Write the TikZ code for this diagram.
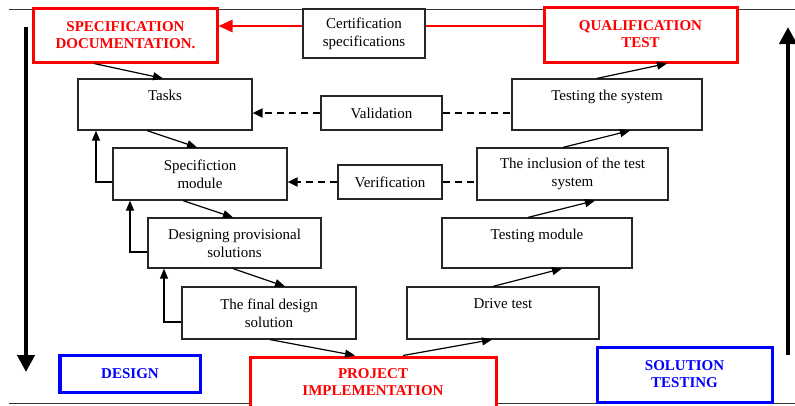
\documentclass[tikz,border=0pt]{standalone}
\usepackage{fontspec}
\setmainfont{Liberation Serif}
\usetikzlibrary{arrows.meta,backgrounds,calc}
\begin{document}
\begin{tikzpicture}[x=1bp,y=-1bp,
  box/.style={draw=black!85, line width=1.2bp, fill=white, inner sep=0pt, align=center,
    font=\fontsize{15bp}{18bp}\selectfont},
  redbox/.style={draw=red, line width=3bp, fill=white, inner sep=0pt, align=center, text=red,
    font=\bfseries\fontsize{15bp}{17bp}\selectfont},
  bluebox/.style={draw=blue, line width=3bp, fill=white, inner sep=0pt, align=center, text=blue,
    font=\bfseries\fontsize{15bp}{17bp}\selectfont},
  flow/.style={-{Triangle[length=10bp,width=8bp]}, line width=1.2bp},
  feedback/.style={-{Triangle[length=10bp,width=8bp]}, line width=1.2bp},
  dashline/.style={line width=1.9bp, dash pattern=on 7bp off 5bp},
  dasharrow/.style={dashline, -{Triangle[length=10bp,width=9bp]}},
  bigarrow/.style={line width=4.5bp, -{Triangle[length=17bp,width=17bp]}},
  frameline/.style={draw=black!80, line width=1bp}
]
\useasboundingbox (0,0) rectangle (795,405);

% boxes
\node[redbox, minimum width=183bp, minimum height=54bp] (specdoc) at (125.5,35) {SPECIFICATION\\DOCUMENTATION.};
\node[box, minimum width=122bp, minimum height=49bp] (cert) at (364,33.5) {Certification\\specifications};
\node[redbox, minimum width=193bp, minimum height=55bp] (qual) at (640.5,34.5) {QUALIFICATION\\TEST};

\node[box, minimum width=174bp, minimum height=51bp] (tasks) at (165,104.5) {Tasks\\~};
\node[box, minimum width=121bp, minimum height=34bp] (valid) at (381.5,113) {Validation};
\node[box, minimum width=190bp, minimum height=51bp] (testsys) at (607,104.5) {Testing the system\\~};

\node[box, minimum width=174bp, minimum height=52bp] (specmod) at (200,174) {Specifiction\\module};
\node[box, minimum width=104bp, minimum height=34bp] (verif) at (390,182) {Verification};
\node[box, minimum width=191bp, minimum height=52bp] (incl) at (572.5,174) {The inclusion of the test\\system};

\node[box, minimum width=173bp, minimum height=50bp] (design) at (234.5,243) {Designing provisional\\solutions};
\node[box, minimum width=190bp, minimum height=50bp] (testmod) at (537,243) {Testing module\\~};

\node[box, minimum width=174bp, minimum height=52bp] (final) at (269,313) {The final design\\solution};
\node[box, minimum width=192bp, minimum height=52bp] (drive) at (503,313) {Drive test\\~};

\node[redbox, minimum width=246bp, minimum height=50bp] (impl) at (373,382) {PROJECT\\IMPLEMENTATION};
\node[bluebox, minimum width=140bp, minimum height=37bp] (dsg) at (130,373.5) {DESIGN};
\node[bluebox, minimum width=175bp, minimum height=55bp] (soltest) at (684.5,374.5) {SOLUTION\\TESTING};

% big arrows
\coordinate (la1) at (26,27);
\coordinate (la2) at (26,372);
\coordinate (ra1) at (788,355);
\coordinate (ra2) at (788,27);
\draw[bigarrow] (la1) -- (la2);
\draw[bigarrow] (ra1) -- (ra2);

\begin{scope}[on background layer]
  \coordinate (tl1) at (9,9);
  \coordinate (tl2) at (795,9);
  \coordinate (bl1) at (9,403);
  \coordinate (bl2) at (795,403);
  \draw[frameline] (tl1) -- (tl2);
  \draw[frameline] (bl1) -- (bl2);
  \draw[red, line width=2.6bp, -{Triangle[length=14bp,width=12bp]}]
    ([yshift=8.5bp]qual.west) -- ([yshift=9bp]specdoc.east);
\end{scope}

% flow arrows (left branch)
\draw[flow] ([xshift=-31.5bp]specdoc.south) -- ([xshift=-2bp]tasks.north);
\draw[flow] ([xshift=-18bp]tasks.south) -- ([xshift=-3bp]specmod.north);
\draw[flow] ([xshift=-17bp]specmod.south) -- ([xshift=-1.5bp]design.north);
\draw[flow] ([xshift=-1.5bp]design.south) -- ([xshift=16bp]final.north);
\draw[flow] ([xshift=1bp]final.south) -- ([xshift=-18bp]impl.north);

% flow arrows (right branch)
\draw[flow] ([xshift=30bp]impl.north) -- ([xshift=-11bp]drive.south);
\draw[flow] ([xshift=-10bp]drive.north) -- ([xshift=25bp]testmod.south);
\draw[flow] ([xshift=-9bp]testmod.north) -- ([xshift=22.5bp]incl.south);
\draw[flow] ([xshift=-9.5bp]incl.north) -- ([xshift=23bp]testsys.south);
\draw[flow] ([xshift=-10bp]testsys.north) -- ([xshift=26.5bp]qual.south);

% feedback arrows
\draw[feedback] ([yshift=-8bp]specmod.west) -| ([xshift=-69bp]tasks.south);
\draw[feedback] ([yshift=-9bp]design.west) -| ([xshift=-70bp]specmod.south);
\draw[feedback] ([yshift=-9bp]final.west) -| ([xshift=-70.5bp]design.south);

% dashed links
\draw[dasharrow] (valid.west) -- (valid.west -| tasks.east);
\draw[dashline] (valid.east) -- (valid.east -| testsys.west);
\draw[dasharrow] (verif.west) -- (verif.west -| specmod.east);
\draw[dashline] (verif.east) -- (verif.east -| incl.west);
\end{tikzpicture}
\end{document}
